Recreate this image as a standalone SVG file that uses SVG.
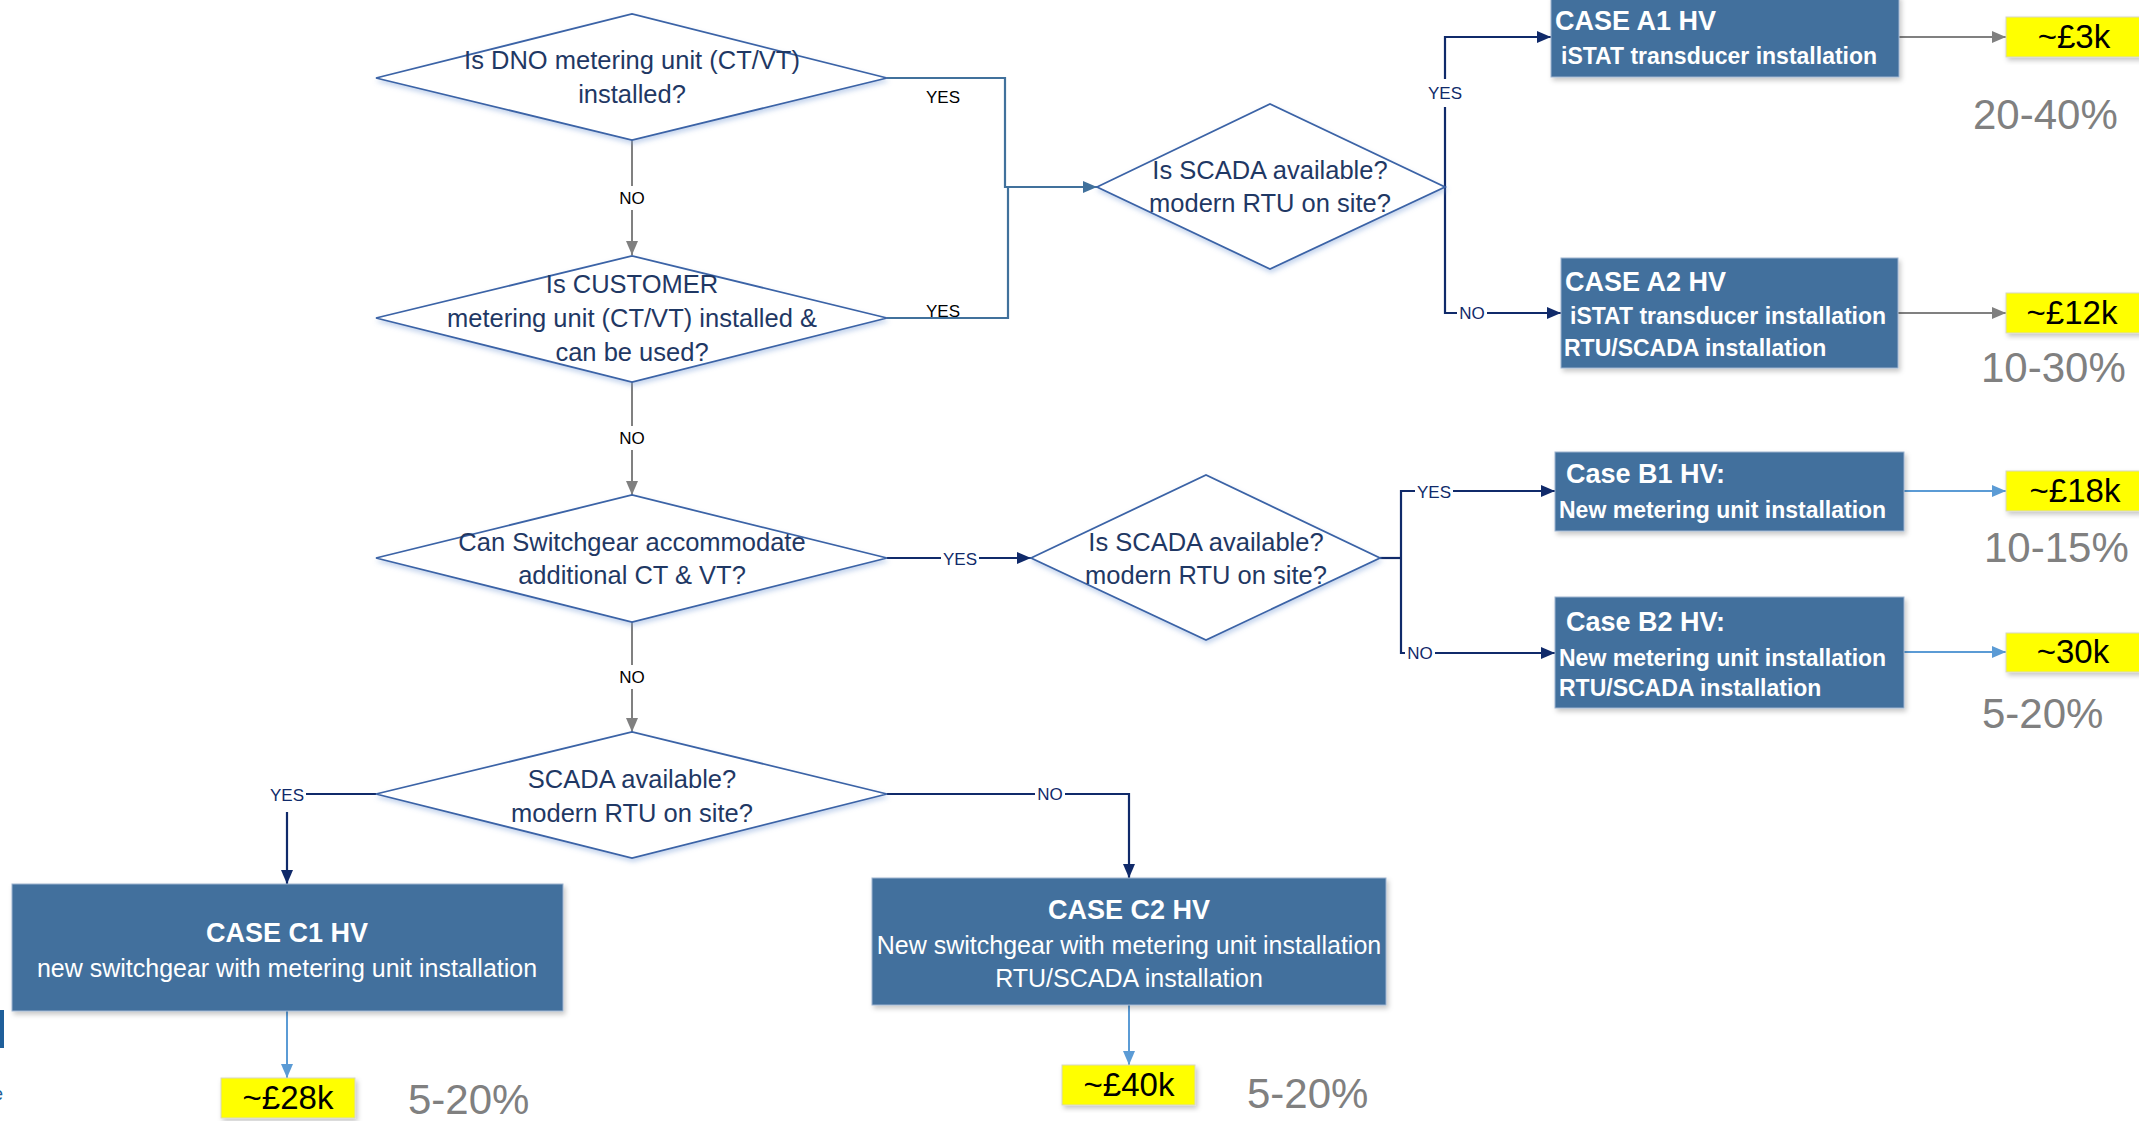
<svg xmlns="http://www.w3.org/2000/svg" width="2139" height="1121" viewBox="0 0 2139 1121">
  <defs>
    <style>
      .dia { fill: #ffffff; stroke: #3b63a6; stroke-width: 1.8; filter: url(#glow); }
      .dtxt { font-family: "Liberation Sans", Arial, sans-serif; font-size: 25.5px; fill: #1f3864; text-anchor: middle; }
      .box { fill: #43709d; stroke: #9db3cf; stroke-width: 1; filter: url(#shadow); }
      .ttl { font-family: "Liberation Sans", Arial, sans-serif; font-size: 27px; font-weight: bold; fill: #ffffff; }
      .bdy { font-family: "Liberation Sans", Arial, sans-serif; font-size: 23px; font-weight: bold; fill: #ffffff; }
      .bdyr { font-family: "Liberation Sans", Arial, sans-serif; font-size: 25px; fill: #ffffff; text-anchor: middle; }
      .price { fill: #ffff00; stroke: #d8d8c0; stroke-width: 1; filter: url(#shadow); }
      .ptxt { font-family: "Liberation Sans", Arial, sans-serif; font-size: 33px; fill: #000000; text-anchor: middle; }
      .pct { font-family: "Liberation Sans", Arial, sans-serif; font-size: 42px; fill: #808080; }
      .lbl { font-family: "Liberation Sans", Arial, sans-serif; font-size: 17px; text-anchor: middle; dominant-baseline: central; }
      .lk { fill: #000000; }
      .ln { fill: #102a6a; }
      .steel { fill: none; stroke: #41719c; stroke-width: 2.2; }
      .navy { fill: none; stroke: #102a6a; stroke-width: 2.2; }
      .grey { fill: none; stroke: #808080; stroke-width: 2; }
      .light { fill: none; stroke: #5b9bd5; stroke-width: 2; }
      .gap { fill: #ffffff; }
    </style>
    <filter id="shadow" x="-5%" y="-10%" width="115%" height="130%">
      <feDropShadow dx="2" dy="3" stdDeviation="2.5" flood-color="#000000" flood-opacity="0.22"/>
    </filter>
    <filter id="glow" x="-5%" y="-10%" width="115%" height="130%">
      <feDropShadow dx="1" dy="3" stdDeviation="2.5" flood-color="#7fa2d8" flood-opacity="0.45"/>
    </filter>
    <marker id="ahSteel" markerUnits="userSpaceOnUse" markerWidth="14" markerHeight="12" refX="14" refY="6" orient="auto">
      <path d="M0,0 L14,6 L0,12 Z" fill="#41719c"/>
    </marker>
    <marker id="ahNavy" markerUnits="userSpaceOnUse" markerWidth="14" markerHeight="12" refX="14" refY="6" orient="auto">
      <path d="M0,0 L14,6 L0,12 Z" fill="#102a6a"/>
    </marker>
    <marker id="ahGrey" markerUnits="userSpaceOnUse" markerWidth="14" markerHeight="12" refX="14" refY="6" orient="auto">
      <path d="M0,0 L14,6 L0,12 Z" fill="#808080"/>
    </marker>
    <marker id="ahLight" markerUnits="userSpaceOnUse" markerWidth="14" markerHeight="12" refX="14" refY="6" orient="auto">
      <path d="M0,0 L14,6 L0,12 Z" fill="#5b9bd5"/>
    </marker>
  </defs>

  <rect x="0" y="0" width="2139" height="1121" fill="#ffffff"/>

  <!-- fragments at the left slide edge -->
  <rect x="0" y="1010" width="4" height="38" fill="#1f5f9a"/>
  <text x="-7" y="1100" font-family="Liberation Sans, Arial, sans-serif" font-size="18" fill="#1f5f9a">e</text>

  <!-- connectors -->
  <g id="connectors">
    <path class="steel" d="M887,78 H1005 V188"/>
    <path class="steel" d="M887,318 H1008 V186"/>
    <path class="steel" d="M1005,187 H1097" marker-end="url(#ahSteel)"/>

    <path class="grey" d="M632,140 V255" marker-end="url(#ahGrey)"/>
    <path class="grey" d="M632,382 V495" marker-end="url(#ahGrey)"/>
    <path class="grey" d="M632,622 V732" marker-end="url(#ahGrey)"/>

    <path class="navy" d="M887,558 H1031" marker-end="url(#ahNavy)"/>

    <path class="navy" d="M1445,187 V37 H1551" marker-end="url(#ahNavy)"/>
    <path class="navy" d="M1445,187 V313 H1561" marker-end="url(#ahNavy)"/>

    <path class="navy" d="M1380,558 H1401"/>
    <path class="navy" d="M1401,558 V491 H1555" marker-end="url(#ahNavy)"/>
    <path class="navy" d="M1401,558 V653 H1555" marker-end="url(#ahNavy)"/>

    <path class="navy" d="M376,794 H287 V884" marker-end="url(#ahNavy)"/>
    <path class="navy" d="M887,794 H1129 V878" marker-end="url(#ahNavy)"/>

    <path class="grey" d="M1899,37 H2006" marker-end="url(#ahGrey)"/>
    <path class="grey" d="M1898,313 H2006" marker-end="url(#ahGrey)"/>
    <path class="light" d="M1904,491 H2006" marker-end="url(#ahLight)"/>
    <path class="light" d="M1904,652 H2006" marker-end="url(#ahLight)"/>
    <path class="light" d="M287,1011 V1078" marker-end="url(#ahLight)"/>
    <path class="light" d="M1129,1005 V1065" marker-end="url(#ahLight)"/>

    <!-- branch labels -->
    <text class="lbl lk" x="943" y="97">YES</text>
    <text class="lbl lk" x="943" y="311">YES</text>
    <rect class="gap" x="616" y="186" width="32" height="24"/>
    <text class="lbl lk" x="632" y="198">NO</text>
    <rect class="gap" x="616" y="426" width="32" height="24"/>
    <text class="lbl lk" x="632" y="438">NO</text>
    <rect class="gap" x="616" y="665" width="32" height="24"/>
    <text class="lbl lk" x="632" y="677">NO</text>
    <rect class="gap" x="941" y="548" width="38" height="22"/>
    <text class="lbl ln" x="960" y="559">YES</text>
    <rect class="gap" x="1430" y="79" width="30" height="28"/>
    <text class="lbl ln" x="1445" y="93">YES</text>
    <rect class="gap" x="1457" y="302" width="30" height="22"/>
    <text class="lbl ln" x="1472" y="313">NO</text>
    <rect class="gap" x="1415" y="480" width="38" height="22"/>
    <text class="lbl ln" x="1434" y="492">YES</text>
    <rect class="gap" x="1405" y="642" width="30" height="22"/>
    <text class="lbl ln" x="1420" y="653">NO</text>
    <rect class="gap" x="268" y="784" width="38" height="28"/>
    <text class="lbl ln" x="287" y="795">YES</text>
    <rect class="gap" x="1035" y="783" width="30" height="22"/>
    <text class="lbl ln" x="1050" y="794">NO</text>
  </g>

  <!-- decisions -->
  <g id="q-dno">
    <polygon class="dia" points="376,78 632,14 887,78 632,140"/>
    <text class="dtxt" x="632" y="69">Is DNO metering unit (CT/VT)</text>
    <text class="dtxt" x="632" y="103">installed?</text>
  </g>
  <g id="q-customer">
    <polygon class="dia" points="376,318 632,256 887,318 632,382"/>
    <text class="dtxt" x="632" y="293">Is CUSTOMER</text>
    <text class="dtxt" x="632" y="327">metering unit (CT/VT) installed &amp;</text>
    <text class="dtxt" x="632" y="361">can be used?</text>
  </g>
  <g id="q-switchgear">
    <polygon class="dia" points="376,558 632,495 887,558 632,622"/>
    <text class="dtxt" x="632" y="551">Can Switchgear accommodate</text>
    <text class="dtxt" x="632" y="584">additional CT &amp; VT?</text>
  </g>
  <g id="q-scada-c">
    <polygon class="dia" points="376,794 632,732 887,794 632,858"/>
    <text class="dtxt" x="632" y="788">SCADA available?</text>
    <text class="dtxt" x="632" y="822">modern RTU on site?</text>
  </g>
  <g id="q-scada-a">
    <polygon class="dia" points="1097,187 1270,104 1445,187 1270,269"/>
    <text class="dtxt" x="1270" y="179">Is SCADA available?</text>
    <text class="dtxt" x="1270" y="212">modern RTU on site?</text>
  </g>
  <g id="q-scada-b">
    <polygon class="dia" points="1031,558 1206,475 1380,558 1206,640"/>
    <text class="dtxt" x="1206" y="551">Is SCADA available?</text>
    <text class="dtxt" x="1206" y="584">modern RTU on site?</text>
  </g>

  <!-- cases -->
  <g id="case-a1">
    <rect class="box" x="1551" y="-4" width="348" height="81"/>
    <text class="ttl" x="1555" y="30">CASE A1 HV</text>
    <text class="bdy" x="1561" y="64">iSTAT transducer installation</text>
  </g>
  <g id="case-a2">
    <rect class="box" x="1561" y="258" width="337" height="110"/>
    <text class="ttl" x="1565" y="291">CASE A2 HV</text>
    <text class="bdy" x="1570" y="324">iSTAT transducer installation</text>
    <text class="bdy" x="1564" y="356">RTU/SCADA installation</text>
  </g>
  <g id="case-b1">
    <rect class="box" x="1555" y="452" width="349" height="79"/>
    <text class="ttl" x="1566" y="483">Case B1 HV:</text>
    <text class="bdy" x="1559" y="518">New metering unit installation</text>
  </g>
  <g id="case-b2">
    <rect class="box" x="1555" y="597" width="349" height="111"/>
    <text class="ttl" x="1566" y="631">Case B2 HV:</text>
    <text class="bdy" x="1559" y="666">New metering unit installation</text>
    <text class="bdy" x="1559" y="696">RTU/SCADA installation</text>
  </g>
  <g id="case-c1">
    <rect class="box" x="12" y="884" width="551" height="127"/>
    <text class="ttl" x="287" y="942" text-anchor="middle">CASE C1 HV</text>
    <text class="bdyr" x="287" y="977">new switchgear with metering unit installation</text>
  </g>
  <g id="case-c2">
    <rect class="box" x="872" y="878" width="514" height="127"/>
    <text class="ttl" x="1129" y="919" text-anchor="middle">CASE C2 HV</text>
    <text class="bdyr" x="1129" y="954">New switchgear with metering unit installation</text>
    <text class="bdyr" x="1129" y="987">RTU/SCADA installation</text>
  </g>

  <!-- costs and shares -->
  <g id="cost-a1">
    <rect class="price" x="2006" y="17" width="140" height="40"/>
    <text class="ptxt" x="2074" y="48">~£3k</text>
    <text class="pct" x="1973" y="129">20-40%</text>
  </g>
  <g id="cost-a2">
    <rect class="price" x="2006" y="293" width="140" height="40"/>
    <text class="ptxt" x="2072" y="324">~£12k</text>
    <text class="pct" x="1981" y="382">10-30%</text>
  </g>
  <g id="cost-b1">
    <rect class="price" x="2006" y="471" width="140" height="40"/>
    <text class="ptxt" x="2075" y="502">~£18k</text>
    <text class="pct" x="1984" y="562">10-15%</text>
  </g>
  <g id="cost-b2">
    <rect class="price" x="2006" y="633" width="140" height="39"/>
    <text class="ptxt" x="2073" y="663">~30k</text>
    <text class="pct" x="1982" y="728">5-20%</text>
  </g>
  <g id="cost-c1">
    <rect class="price" x="221" y="1078" width="134" height="40"/>
    <text class="ptxt" x="288" y="1109">~£28k</text>
    <text class="pct" x="408" y="1114">5-20%</text>
  </g>
  <g id="cost-c2">
    <rect class="price" x="1062" y="1065" width="133" height="40"/>
    <text class="ptxt" x="1129" y="1096">~£40k</text>
    <text class="pct" x="1247" y="1108">5-20%</text>
  </g>
</svg>
